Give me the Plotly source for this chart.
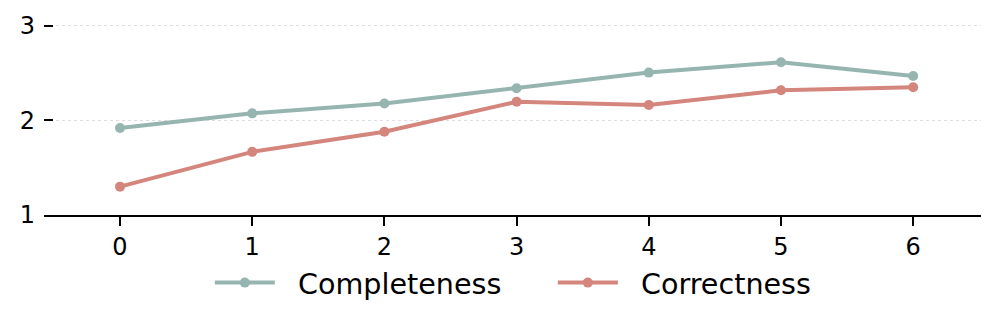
import plotly.graph_objects as go

x_vals = [0, 1, 2, 3, 4, 5, 6]
completeness = [1.92, 2.075, 2.18, 2.34, 2.506, 2.616, 2.47]
correctness = [1.30, 1.668, 1.88, 2.198, 2.163, 2.319, 2.351]
series_names = ["Completeness", "Correctness"]
colors = ["#97b5b0", "#d4857c"]
y_ticks = [1, 2, 3]

fig = go.Figure()
for name, vals, col in zip(series_names, [completeness, correctness], colors):
    fig.add_trace(go.Scatter(
        x=x_vals, y=vals, name="\u00a0\u00a0" + name, mode="lines+markers",
        line=dict(color=col, width=4),
        marker=dict(color=col, size=10),
    ))

font = "DejaVu Sans"
fig.update_layout(
    width=997, height=326,
    margin=dict(l=44, r=16, t=7, b=111, autoexpand=False),
    plot_bgcolor="white", paper_bgcolor="white",
    font=dict(family=font, color="black", size=24),
    showlegend=True,
    legend=dict(orientation="h", x=0.177, xanchor="left", y=-0.327, yanchor="middle",
                font=dict(size=28.6, family=font, color="black"),
                itemwidth=60, entrywidth=268, entrywidthmode="pixels",
                tracegroupgap=0, bgcolor="rgba(0,0,0,0)"),
)
fig.update_xaxes(
    range=[-0.575, 6.513], tickvals=x_vals, ticktext=[str(v) for v in x_vals],
    showline=True, linecolor="black", linewidth=2,
    ticks="outside", ticklen=9, tickwidth=2, tickcolor="black",
    showgrid=False, zeroline=False, tickfont=dict(size=24), automargin=False,
)
fig.update_yaxes(
    range=[1, 3.2], tickvals=y_ticks, ticktext=[str(v) for v in y_ticks],
    showline=False, ticks="inside", ticklen=9, tickwidth=2, tickcolor="black",
    showgrid=True, gridcolor="#dedede", gridwidth=1, griddash="dot",
    zeroline=False, tickfont=dict(size=24), ticklabelstandoff=8, automargin=False,
)
fig.write_html("out.html", config={"displayModeBar": False},
               post_script="document.body.style.margin='0';")
